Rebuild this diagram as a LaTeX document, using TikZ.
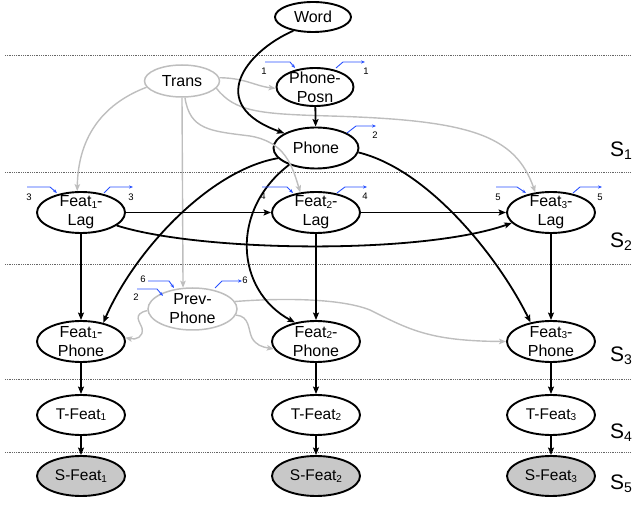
\documentclass[tikz,border=0pt]{standalone}
\usepackage{fontspec}
\setmainfont{Liberation Sans}
\usetikzlibrary{shapes.geometric,arrows.meta}
\definecolor{gline}{RGB}{190,190,190}
\definecolor{sfill}{RGB}{200,200,200}
\definecolor{mblue}{RGB}{40,80,255}
\newcommand\sbs[1]{\raisebox{-1.3pt}{\fontsize{10}{10}\selectfont #1}}
\newcommand\sbl[1]{\raisebox{-3pt}{\fontsize{14}{14}\selectfont #1}}
\begin{document}
\begin{tikzpicture}[x=1pt,y=-1pt,
  bn/.style={ellipse, draw=black, line width=1.9pt, inner xsep=0pt, inner ysep=-2.5pt,
    font=\fontsize{16}{19}\selectfont, align=center},
  gn/.style={bn, draw=gline, line width=1.5pt},
  tn/.style={bn, font=\fontsize{15.5}{18}\selectfont, minimum width=88pt, minimum height=40pt},
  lagn/.style={bn, minimum width=88pt, minimum height=41pt},
  blk/.style={-{Stealth[length=7.5pt,width=6pt,inset=1.5pt]}, line width=1.8pt},
  gry/.style={-{Stealth[length=7pt,width=5.5pt,inset=1.5pt]}, line width=1.4pt, draw=gline},
  mk/.style={draw=mblue, line width=0.9pt, -{Stealth[length=4pt,width=3.2pt]}},
  num/.style={font=\fontsize{9.5}{9.5}\selectfont, inner sep=0pt},
  sep/.style={densely dotted, line width=0.8pt, draw=black!60},
  slab/.style={font=\fontsize{21}{21}\selectfont, inner sep=0pt, anchor=west}
]
\useasboundingbox (0,0) rectangle (635,510);

% separators
\foreach \yy in {55,172.5,264,379,452} \draw[sep] (5,\yy) -- (630,\yy);

% nodes
\node[bn, minimum width=76pt, minimum height=30pt] (word) at (313,17) {Word};
\node[gn, minimum width=75pt, minimum height=32pt] (trans) at (182,81) {Trans};
\node[bn, minimum width=77pt, minimum height=38pt] (pp) at (315,87) {Phone-\\Posn};
\node[bn, minimum width=85pt, minimum height=41pt] (phone) at (316,148) {Phone};

\node[lagn] (f1l) at (81,212.5) {Feat\sbs{1}-\\Lag};
\node[lagn] (f2l) at (316,212.5) {Feat\sbs{2}-\\Lag};
\node[lagn] (f3l) at (551,212.5) {Feat\sbs{3}-\\Lag};

\node[gn, minimum width=89pt, minimum height=42pt] (prev) at (192.5,309) {Prev-\\Phone};

\node[lagn] (f1p) at (81,341.5) {Feat\sbs{1}-\\Phone};
\node[lagn] (f2p) at (316,341.5) {Feat\sbs{2}-\\Phone};
\node[lagn] (f3p) at (551,341.5) {Feat\sbs{3}-\\Phone};

\node[tn] (t1) at (81,415) {T-Feat\sbs{1}};
\node[tn] (t2) at (316,415) {T-Feat\sbs{2}};
\node[tn] (t3) at (551,415) {T-Feat\sbs{3}};

\node[tn, fill=sfill] (s1) at (81,476) {S-Feat\sbs{1}};
\node[tn, fill=sfill] (s2) at (316,476) {S-Feat\sbs{2}};
\node[tn, fill=sfill] (s3) at (551,476) {S-Feat\sbs{3}};

% stage labels
\node[slab] (S1) at (610,151) {S\sbl{1}};
\node[slab] (S2) at (610,242) {S\sbl{2}};
\node[slab] (S3) at (610,356) {S\sbl{3}};
\node[slab] (S4) at (610,433) {S\sbl{4}};
\node[slab] (S5) at (610,484) {S\sbl{5}};

% grey connectors
\draw[gry] (trans.5) .. controls (245,78) and (255,86) .. (pp.182);
\draw[gry] (trans.-12) .. controls (235,112) and (260,114) .. (330,116)
  .. controls (470,120) and (515,135) .. (f3l.128);
\draw[gry] (trans.-80) .. controls (190,130) and (210,131) .. (250,136)
  .. controls (285,142) and (292,165) .. (f2l.128);
\draw[gry] (trans.190) .. controls (100,105) and (78,140) .. (f1l.100);
\draw[gry] (trans.south) -- (prev.114);
\draw[gry] (prev.182) .. controls (132,314) and (140,322) .. (142,328)
  .. controls (144,337) and (136,340) .. (f1p.5);
\draw[gry] (prev.-8) .. controls (250,316) and (248,330) .. (252,338)
  .. controls (256,345) and (262,347) .. (f2p.190);
\draw[gry] (prev.10) .. controls (280,298) and (340,298) .. (370,310)
  .. controls (410,330) and (430,341) .. (f3p.180);

% black connectors
\draw[blk] (word.215) .. controls (245,52) and (205,105) .. (phone.155);
\draw[blk] (pp) -- (phone);
\draw[blk] (phone.195) .. controls (210,170) and (135,250) .. (f1p.40);
\draw[blk] (phone.212) .. controls (230,210) and (235,290) .. (f2p.138);
\draw[blk] (phone.-6) .. controls (430,170) and (500,260) .. (f3p.137);
\draw[blk] (f1l) -- (f2l);
\draw[blk] (f2l) -- (f3l);
\draw[blk] (f1l.-20) .. controls (200,252) and (420,255) .. (f3l.195);
\foreach \i in {1,2,3} {
  \draw[blk] (f\i l) -- (f\i p);
  \draw[blk] (f\i p) -- (t\i);
  \draw[blk] (t\i) -- (s\i);
}

% blue markers
\draw[mk] (265,62) -- (290,62) -- (295,68);
\node[num] (n1a) at (264,71) {1};
\draw[mk] (336,68) -- (343,62) -- (365,62);
\node[num] (n1b) at (366,71) {1};
\draw[mk] (347,133) -- (356,126) -- (376,126);
\node[num] (n2a) at (375,135) {2};
\draw[mk] (27,187) -- (50,187) -- (57,193);
\node[num] (n3a) at (29,197) {3};
\draw[mk] (104,193) -- (110,187) -- (133,187);
\node[num] (n3b) at (131,197) {3};
\draw[mk] (262,187) -- (287,187) -- (293,193);
\node[num] (n4a) at (263,196) {4};
\draw[mk] (337,193) -- (345,187) -- (367,187);
\node[num] (n4b) at (365,196) {4};
\draw[mk] (496,187) -- (517,187) -- (526,193);
\node[num] (n5a) at (498,197) {5};
\draw[mk] (573,193) -- (580,187) -- (602,187);
\node[num] (n5b) at (600,197) {5};
\draw[mk] (148,281) -- (169,281) -- (174,288);
\node[num] (n6a) at (143,279) {6};
\draw[mk] (137,289) -- (157,289) -- (163,296);
\node[num] (n2b) at (136,297) {2};
\draw[mk] (215,288) -- (222,281) -- (242,281);
\node[num] (n6b) at (245,280) {6};
\end{tikzpicture}
\end{document}
